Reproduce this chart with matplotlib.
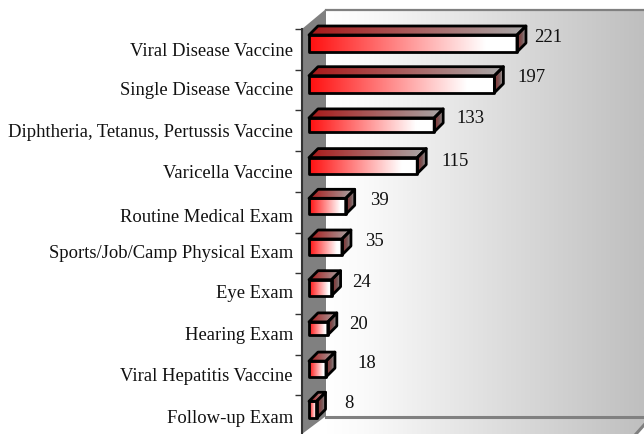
import numpy as np
import matplotlib
matplotlib.use("Agg")
import matplotlib.pyplot as plt
from matplotlib.colors import LinearSegmentedColormap
from matplotlib.patches import Polygon
from matplotlib.transforms import ScaledTranslation

categories = ["Viral Disease Vaccine", "Single Disease Vaccine",
              "Diphtheria, Tetanus, Pertussis Vaccine", "Varicella Vaccine",
              "Routine Medical Exam", "Sports/Job/Camp Physical Exam", "Eye Exam",
              "Hearing Exam", "Viral Hepatitis Vaccine", "Follow-up Exam"]
values = [221, 197, 133, 115, 39, 35, 24, 20, 18, 8]

W, H = 644, 434
PX_PER_VALUE = 0.941
PX_PER_CAT = 40.7
DEPTH = 9  # px, 3d offset of the bars

plt.rcParams['font.family'] = ['Liberation Serif', 'DejaVu Serif']

# small per-bar nudges, the original renderer rounds these unevenly
bar_px = [17, 17, 14, 16, 16, 16, 16, 13, 16, 17]
label_dx = [17, 23, 22, 24, 24, 23, 21, 21, 31, 28]
label_dy = [6.5, 6.5, 6, 4, 6, 6, 5, 4, 6, 6]
cat_dy = [5.5, 4.5, 6, 6, 9, 4, 4, 5, 5, 7]

front_cmap = LinearSegmentedColormap.from_list("front", [(0, "#ff0f0f"), (0.85, "#ffffff"), (1, "#ffffff")])
top_cmap = LinearSegmentedColormap.from_list("top", ["#a81818", "#a8a8a8"])
side_cmap = LinearSegmentedColormap.from_list("side", [(0, "#8a2a2a"), (0.6, "#7a5a5a"), (1, "#a0a0a0")])
wall_cmap = LinearSegmentedColormap.from_list("wall", [(0, "#ffffff"), (0.12, "#fafafa"), (1, "#bfbfbf")])
ramp = np.linspace(0, 1, 256).reshape(1, -1)

fig = plt.figure(figsize=(W / 100, H / 100), dpi=100, facecolor="white")

# chart walls, in figure pixels
bg = fig.add_axes([0, 0, 1, 1])
bg.set_xlim(0, W)
bg.set_ylim(H, 0)
bg.axis("off")
back = Polygon([(326, 9), (644, 9), (644, 425), (636, 434), (302, 434), (326, 416)], fc="none", ec="none")
bg.add_patch(back)
im = bg.imshow(ramp, cmap=wall_cmap, extent=(326, 644, 434, 9), aspect="auto", vmin=0, vmax=1)
im.set_clip_path(back)
bg.set_xlim(0, W)
bg.set_ylim(H, 0)
bg.add_patch(Polygon([(302, 29), (326, 9), (326, 416), (302, 434)], fc="#808080", ec="none"))
bg.plot([326, 644], [9.5, 9.5], color="#808080", lw=1.6)
bg.plot([326, 644], [416.5, 416.5], color="#808080", lw=2.2)
bg.plot([636, 644], [434, 425], color="#808080", lw=2.2)

# plot axes, top is left above the axis so the first bar's depth is not clipped
ax = fig.add_axes([302 / W, 0, (W - 302) / W, (H - 9) / H])
ax.patch.set_alpha(0)
x0 = -7 / PX_PER_VALUE
x1 = (W - 309) / PX_PER_VALUE
y0 = (H - 43.5) / PX_PER_CAT
y1 = (9 - 43.5) / PX_PER_CAT
tick_off = (29 - 43.5) / PX_PER_CAT
dvx = DEPTH / PX_PER_VALUE
dvy = DEPTH / PX_PER_CAT

for i, v in enumerate(values):
    h = bar_px[i] / PX_PER_CAT
    y_top = i - h / 2
    y_bot = i + h / 2
    faces = [
        (top_cmap, [(0, y_top), (v, y_top), (v + dvx, y_top - dvy), (dvx, y_top - dvy)],
         (0, v + dvx, y_top, y_top - dvy)),
        (side_cmap, [(v, y_top), (v + dvx, y_top - dvy), (v + dvx, y_bot - dvy), (v, y_bot)],
         (v, v + dvx, y_bot, y_top - dvy)),
        (front_cmap, [(0, y_top), (v, y_top), (v, y_bot), (0, y_bot)],
         (0, v, y_bot, y_top)),
    ]
    for cmap, pts, ext in faces:
        edge = Polygon(pts, closed=True, fc="none", ec="black", lw=2, joinstyle="round", zorder=3)
        ax.add_patch(edge)
        img = ax.imshow(ramp, cmap=cmap, extent=ext, aspect="auto", vmin=0, vmax=1, zorder=2)
        img.set_clip_path(edge)
    offset = ScaledTranslation(label_dx[i] / 100, label_dy[i] / 100, fig.dpi_scale_trans)
    ax.text(v, i, str(v), transform=ax.transData + offset, fontsize=13.5, ha="left", va="center", color="#111111")

ax.set_xlim(x0, x1)
ax.set_ylim(y0, y1)
ax.set_xticks([])
ax.set_yticks(range(len(categories)))
ax.set_yticklabels(categories, fontsize=13.4, color="#111111")
ax.tick_params(axis="y", which="major", length=0, pad=6.5)
ax.set_yticks([i + tick_off for i in range(len(categories))], minor=True)
ax.tick_params(axis="y", which="minor", length=5, width=1, color="#333333")
for lab, dy in zip(ax.get_yticklabels(), cat_dy):
    lab.set_transform(lab.get_transform() + ScaledTranslation(0, -dy / 100, fig.dpi_scale_trans))
for name in ["top", "right", "bottom"]:
    ax.spines[name].set_visible(False)
ax.spines["left"].set_linewidth(1.5)
ax.spines["left"].set_color("#333333")
ax.spines["left"].set_bounds(y0, tick_off)

fig.savefig("out.png", dpi=100)
